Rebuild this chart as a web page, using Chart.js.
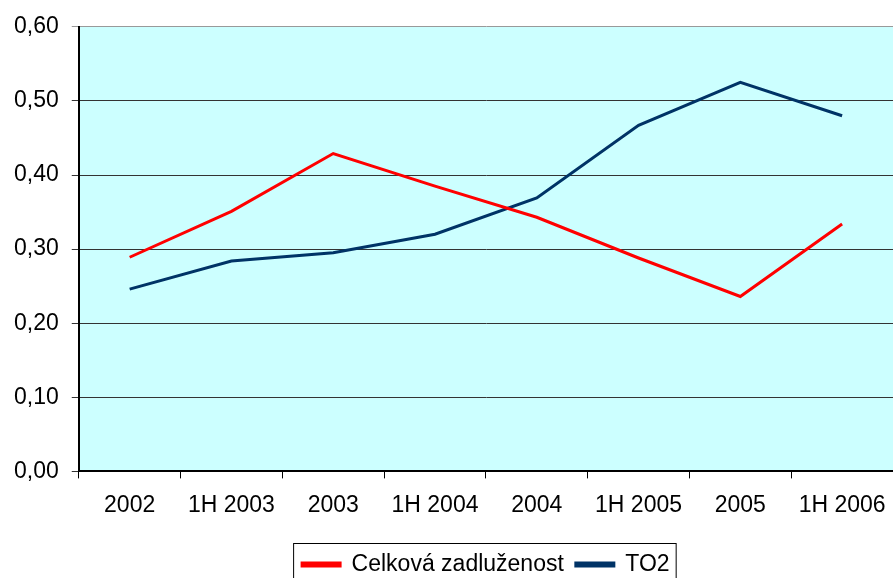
<!DOCTYPE html>
<html>
<head>
<meta charset="utf-8">
<script src="https://cdn.jsdelivr.net/npm/chart.js@4"></script>
<style>
  html, body { margin: 0; padding: 0; background: #fff; }
  #wrap { width: 893px; height: 578px; }
</style>
</head>
<body>
<div id="wrap"><canvas id="chart" width="893" height="578"></canvas></div>
<script>
const labels = ['2002', '1H 2003', '2003', '1H 2004', '2004', '1H 2005', '2005', '1H 2006'];
const celkova = [0.289, 0.351, 0.429, 0.385, 0.343, 0.288, 0.236, 0.334];
const to2 = [0.246, 0.284, 0.295, 0.320, 0.369, 0.467, 0.525, 0.480];
const seriesNames = ['Celková zadluženost', 'TO2'];

// plot area fill + legend frame
const decor = {
  id: 'decor',
  beforeDraw(chart) {
    const { ctx, chartArea: a } = chart;
    ctx.save();
    ctx.fillStyle = '#CCFFFF';
    ctx.fillRect(a.left, a.top, a.right - a.left, a.bottom - a.top);
    ctx.restore();
  },
  afterDraw(chart) {
    const { ctx } = chart;
    const boxes = chart.legend.legendHitBoxes;
    if (!boxes || !boxes.length) return;
    const first = boxes[0], last = boxes[boxes.length - 1];
    const x0 = first.left - 9, x1 = last.left + last.width + 6;
    const y0 = first.top - 10;
    ctx.save();
    ctx.strokeStyle = '#000';
    ctx.lineWidth = 1;
    ctx.strokeRect(x0 + 0.5, y0 + 0.5, x1 - x0, 60);
    ctx.restore();
  }
};

const font = { family: 'Arial, "Liberation Sans", sans-serif', size: 23 };

new Chart(document.getElementById('chart').getContext('2d'), {
  type: 'line',
  data: {
    labels: labels,
    datasets: [
      {
        label: seriesNames[0],
        data: celkova,
        borderColor: '#FF0000',
        backgroundColor: '#FF0000',
        borderWidth: 3,
        pointRadius: 0,
        tension: 0
      },
      {
        label: seriesNames[1],
        data: to2,
        borderColor: '#003366',
        backgroundColor: '#003366',
        borderWidth: 3,
        pointRadius: 0,
        tension: 0
      }
    ]
  },
  options: {
    responsive: false,
    animation: false,
    layout: { padding: { left: 1, right: 0, top: 12, bottom: -8 } },
    plugins: {
      tooltip: { enabled: false },
      legend: {
        position: 'bottom',
        fullSize: false,
        labels: {
          color: '#000',
          font: font,
          boxWidth: 38,
          boxHeight: 3,
          padding: 12
        }
      }
    },
    scales: {
      x: {
        offset: true,
        afterFit: (scale) => { scale.height += 9; scale.paddingRight = 0; },
        grid: {
          offset: true,
          drawOnChartArea: false,
          drawTicks: true,
          tickLength: 7,
          color: '#000'
        },
        border: { color: '#000', width: 2 },
        ticks: { color: '#000', font: font, padding: 13, maxRotation: 0 }
      },
      y: {
        min: 0,
        max: 0.6,
        grid: {
          color: (c) => c.tick.value === 0.6 ? '#999' : '#333',
          lineWidth: 1,
          tickLength: 7
        },
        border: { color: '#000', width: 2 },
        ticks: {
          stepSize: 0.1,
          color: '#000',
          font: font,
          padding: 13,
          callback: (v) => v.toFixed(2).replace('.', ',')
        }
      }
    }
  },
  plugins: [decor]
});
</script>
</body>
</html>
